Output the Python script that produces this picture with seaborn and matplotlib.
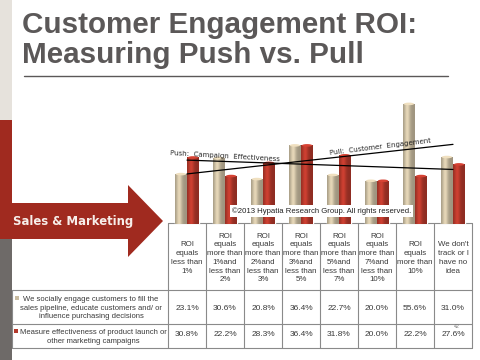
# Customer Engagement ROI - Push vs. Pull, Folie nachgebaut

import numpy as np
import pandas as pd
import matplotlib
matplotlib.use("Agg")
import matplotlib.pyplot as plt
import matplotlib.colors as mcolors
from matplotlib.patches import Polygon, Rectangle, Ellipse
import seaborn as sns

# Daten
categories = [
    "ROI\nequals\nless than\n1%",
    "ROI\nequals\nmore than\n1%and\nless than\n2%",
    "ROI\nequals\nmore than\n2%and\nless than\n3%",
    "ROI\nequals\nmore than\n3%and\nless than\n5%",
    "ROI\nequals\nmore than\n5%and\nless than\n7%",
    "ROI\nequals\nmore than\n7%and\nless than\n10%",
    "ROI\nequals\nmore than\n10%",
    "We don't\ntrack or I\nhave no\nidea",
]
pull_vals = [23.1, 30.6, 20.8, 36.4, 22.7, 20.0, 55.6, 31.0]
push_vals = [30.8, 22.2, 28.3, 36.4, 31.8, 20.0, 22.2, 27.6]
series_labels = [
    "We socially engage customers to fill the\nsales pipeline, educate customers and/ or\ninfluence purchasing decisions",
    "Measure effectiveness of product launch or\nother marketing campaigns",
]
title_lines = ["Customer Engagement ROI:", "Measuring Push vs. Pull"]
pull_label = "Pull:  Customer  Engagement"
push_label = "Push:  Campaign  Effectiveness"
copyright_txt = "\u00a92013 Hypatia Research Group. All rights reserved."

beige = "#c8bba0"
red = "#b3382b"
dark_red = "#a02a1f"
grey_txt = "#5b5858"
line_grey = "#8a8a8a"

sns.set_style("white")
plt.rcParams["font.family"] = ["Liberation Sans", "DejaVu Sans"]

fig = plt.figure(figsize=(4.8, 3.6), dpi=100)

# Hintergrund in Pixelkoordinaten
bg = fig.add_axes([0, 0, 1, 1])
bg.set_xlim(0, 480)
bg.set_ylim(360, 0)
bg.axis("off")

# linker Streifen
bg.add_patch(Rectangle((0, 0), 12, 120, color="#e6e2dc", lw=0))
bg.add_patch(Rectangle((0, 120), 12, 119, color=dark_red, lw=0))
bg.add_patch(Rectangle((0, 239), 12, 121, color="#6e6a68", lw=0))

# Pfeil
arrow = [(12, 203), (128, 203), (128, 185), (163, 221), (128, 257), (128, 239), (12, 239)]
bg.add_patch(Polygon(arrow, closed=True, color=dark_red, lw=0))
bg.text(13, 221, "Sales & Marketing", color="#f7eeea", fontsize=8.4,
        fontweight="bold", family="DejaVu Sans", ha="left", va="center")

# Titel
bg.text(22, 33, title_lines[0], fontsize=21.3, fontweight="bold", color=grey_txt, va="baseline")
bg.text(22, 63, title_lines[1], fontsize=21.3, fontweight="bold", color=grey_txt, va="baseline")
bg.plot([24, 448], [76, 76], color=grey_txt, lw=1)

# Tabelle
col_edges = [168 + 38 * i for i in range(9)]
for xe in col_edges:
    bg.plot([xe, xe], [223, 348], color=line_grey, lw=0.8)
bg.plot([168, 472], [223, 223], color=line_grey, lw=0.8)
for ye in [290, 324, 348]:
    bg.plot([12, 472], [ye, ye], color=line_grey, lw=0.8)
bg.plot([12, 12], [290, 348], color=line_grey, lw=0.8)

for i, cat in enumerate(categories):
    xc = (col_edges[i] + col_edges[i + 1]) / 2
    bg.text(xc, 258, cat, ha="center", va="center", fontsize=5.7,
            linespacing=1.35, color="#3a3a3a")
    bg.text(xc, 309, f"{pull_vals[i]:.1f}%", ha="center", va="center",
            fontsize=6, color="#3a3a3a")
    bg.text(xc, 335, f"{push_vals[i]:.1f}%", ha="center", va="center",
            fontsize=6, color="#3a3a3a")

bg.add_patch(Rectangle((15, 296), 4, 4, color=beige, lw=0))
bg.add_patch(Rectangle((14, 329), 4, 4, color=red, lw=0))
bg.text(91, 308, series_labels[0], ha="center", va="center", fontsize=5.5,
        linespacing=1.35, color="#3a3a3a")
bg.text(93, 337, series_labels[1], ha="center", va="center", fontsize=5.5,
        linespacing=1.35, color="#3a3a3a")
bg.text(457, 326.5, "42", fontsize=3.8, color="#777777", ha="center", va="center")

# Balkendiagramm
ax = fig.add_axes([168 / 480, (360 - 224) / 360, 304 / 480, 124 / 360])
ax.patch.set_alpha(0)

df = pd.DataFrame({
    "pos": list(range(8)) * 2,
    "wert": pull_vals + push_vals,
    "serie": ["pull"] * 8 + ["push"] * 8,
})
sns.barplot(data=df, x="pos", y="wert", hue="serie", palette=[beige, red],
            width=0.64, gap=0.06, legend=False, ax=ax, saturation=1)

# zylindrischer Look
t = np.linspace(0, 1, 40)
shade = 0.8 + 0.35 * np.exp(-((t - 0.35) / 0.25) ** 2)
for bar in list(ax.patches):
    x0, w, h = bar.get_x(), bar.get_width(), bar.get_height()
    base = np.array(mcolors.to_rgb(bar.get_facecolor()))
    img = np.clip(base[None, :] * shade[:, None], 0, 1)[None, :, :]
    im = ax.imshow(img, extent=[x0, x0 + w, 0, h], aspect="auto",
                   zorder=bar.get_zorder() + 0.1, interpolation="bilinear")
    im.set_clip_path(bar)
    cap = np.clip(base * 1.2, 0, 1)
    ax.add_patch(Ellipse((x0 + w / 2, h), w * 0.9, 1.2, color=cap,
                         zorder=bar.get_zorder() + 0.2, lw=0))

# Trendlinien
sns.regplot(x=np.arange(8), y=np.array(push_vals), scatter=False, ci=None,
            color="black", line_kws=dict(lw=0.9, zorder=5), ax=ax)
sns.regplot(x=np.arange(8), y=np.array(pull_vals), scatter=False, ci=None,
            color="black", line_kws=dict(lw=0.9, zorder=5), ax=ax)
ax.text(-0.45, 31.9, push_label, fontsize=5, family="DejaVu Sans", rotation=-3.3,
        rotation_mode="anchor", ha="left", va="baseline", zorder=6)
ax.text(3.76, 31.9, pull_label, fontsize=5, family="DejaVu Sans", rotation=7,
        rotation_mode="anchor", ha="left", va="baseline", zorder=6)

ax.set_xlim(-0.5, 7.5)
ax.set_ylim(0, 124 / 2.16)
ax.set_xlabel("")
ax.set_ylabel("")
ax.set_xticks([])
ax.set_yticks([])
sns.despine(ax=ax, left=True, bottom=True)

# Copyright-Box oben drauf
top = fig.add_axes([0, 0, 1, 1])
top.set_xlim(0, 480)
top.set_ylim(360, 0)
top.axis("off")
top.add_patch(Rectangle((230, 205), 183, 12, color="white", lw=0))
top.text(322, 211.5, copyright_txt, ha="center", va="center", fontsize=5.6, color="#222222")

fig.savefig("out.png", dpi=100)
